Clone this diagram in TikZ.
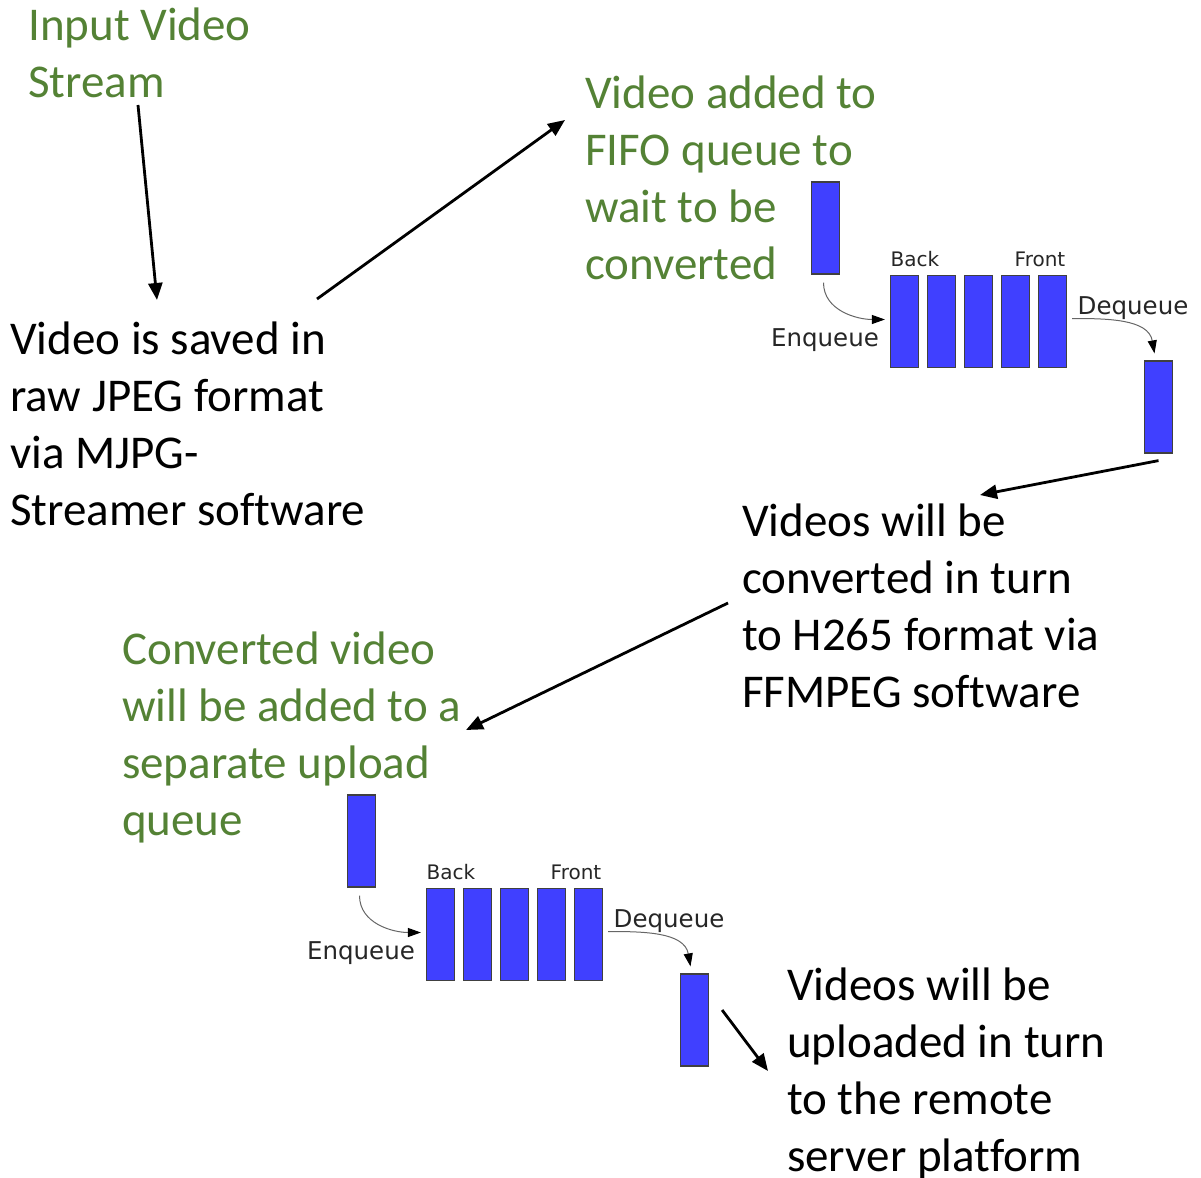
\documentclass[tikz,border=0pt]{standalone}
\usepackage{fontspec}
\setmainfont{Carlito}[Ligatures=NoCommon]
\newfontfamily\labelfont{DejaVu Sans}
\usetikzlibrary{arrows.meta}

\definecolor{notegreen}{RGB}{84,130,53}
\definecolor{clipblue}{RGB}{64,64,255}

\tikzset{
  note/.style={anchor=north west, inner sep=0pt, align=left, font=\fontsize{47}{57}\selectfont},
  greennote/.style={note, text=notegreen},
  vidclip/.style={draw=black!75, line width=1.2pt, fill=clipblue, minimum width=28pt, minimum height=92pt, inner sep=0pt},
  qlabel/.style={inner sep=0pt, text=black!85, font=\labelfont\fontsize{20}{24}\selectfont},
  qaction/.style={inner sep=0pt, text=black!85, font=\labelfont\fontsize{24.5}{29}\selectfont},
  bigarrow/.style={line width=2.8pt, -{Stealth[length=17pt,width=14pt,inset=0pt]}},
  qarrow/.style={black!60, line width=1pt, -{Stealth[length=13pt,width=9pt,inset=0pt,color=black]}},
}

\begin{document}
\begin{tikzpicture}[x=1pt,y=-1pt]
	\useasboundingbox (0,0) rectangle (1201,1177);
	
	%text blocks
	\node[greennote] (input) at (28,8) {Input Video\\Stream};
	\node[note] (saved) at (10,322) {Video is saved in\\raw JPEG format\\via MJPG-\\Streamer software};
	\node[greennote] (fifo) at (585,76) {Video added to\\FIFO queue to\\wait to be\\converted};
	\node[note] (convert) at (742,504) {Videos will be\\converted in turn\\to H265 format via\\FFMPEG software};
	\node[greennote] (upq) at (122,632) {Converted video\\will be added to a\\separate upload\\queue};
	\node[note] (upload) at (787,968) {Videos will be\\uploaded in turn\\to the remote\\server platform};
	
	%the two queues, second one shifted down-left
	\foreach \q/\dx/\dy in {conv/0/0, up/-464/613}
	{
		\begin{scope}[shift={(\dx,\dy)}]
			\node[vidclip] (\q-new) at (825.5,228) {};
			\foreach \i in {0,...,4}
			{\node[vidclip] (\q-slot\i) at (904.5+37*\i,321.5) {};}
			\node[vidclip] (\q-out) at (1158.5,407) {};
			\node[qlabel] (\q-back) at (915,259) {Back};
			\node[qlabel] (\q-front) at (1040,259) {Front};
			\node[qaction] (\q-enq) at (825,340) {Enqueue};
			\node[qaction] (\q-deq) at (1133,308) {Dequeue};
			\draw[qarrow] ([xshift=-2pt,yshift=-8pt]\q-new.south) to[out=-90,in=180] ([xshift=-5pt,yshift=2pt]\q-slot0.west);
			\draw[qarrow] ([xshift=5pt,yshift=3pt]\q-slot4.east) to[out=0,in=100] ([xshift=-4pt,yshift=7pt]\q-out.north);
		\end{scope}
	}
	
	%flow arrows
	\draw[bigarrow] ([xshift=110pt,yshift=-97pt]input.north west) -- ([xshift=147pt,yshift=22pt]saved.north west);
	\draw[bigarrow] ([xshift=307pt,yshift=23pt]saved.north west) -- ([xshift=-20pt,yshift=-44pt]fifo.north west);
	\draw[bigarrow] ([yshift=-7pt]conv-out.south) -- ([xshift=238pt,yshift=9pt]convert.north west);
	\draw[bigarrow] ([xshift=-14pt,yshift=-99pt]convert.north west) -- ([xshift=344pt,yshift=-98pt]upq.north west);
	\draw[bigarrow] ([xshift=13pt,yshift=10pt]up-out.east) -- ([xshift=-19pt,yshift=-103pt]upload.north west);
\end{tikzpicture}
\end{document}
